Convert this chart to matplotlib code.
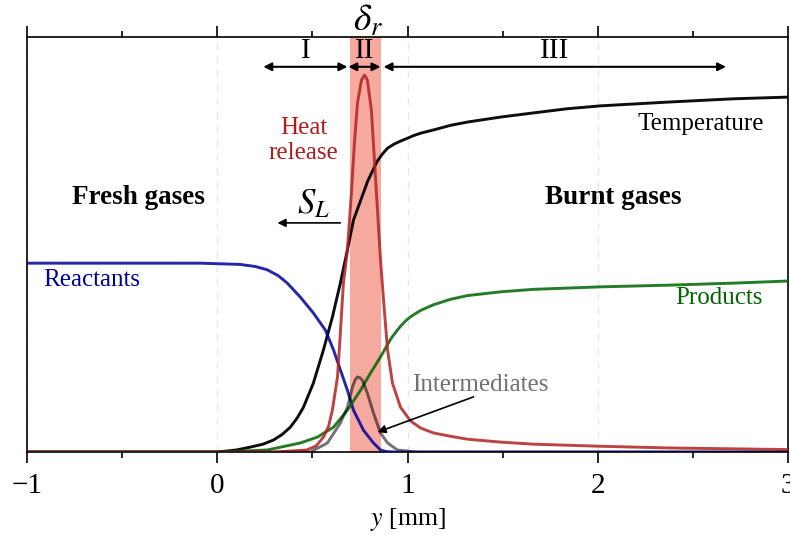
import numpy as np
import matplotlib
matplotlib.use("Agg")
import matplotlib.pyplot as plt

plt.rcParams['font.family'] = ['Liberation Serif', 'DejaVu Serif']
plt.rcParams['mathtext.fontset'] = 'stix'

# curves (y position in mm, normalised profile)
temp_x = [-1.0, 0.0, 0.1, 0.174, 0.24, 0.295, 0.34, 0.384, 0.42, 0.453, 0.505,
          0.558, 0.605, 0.647, 0.684, 0.716, 0.768, 0.79, 0.84, 0.868, 0.895,
          0.93, 0.963, 1.0, 1.03, 1.068, 1.137, 1.226, 1.316, 1.49, 1.663,
          1.84, 2.016, 2.368, 2.716, 3.0]
temp_y = [0.0, 0.0, 0.005, 0.012, 0.019, 0.029, 0.042, 0.06, 0.082, 0.108, 0.166,
          0.246, 0.325, 0.407, 0.487, 0.559, 0.624, 0.652, 0.70, 0.718, 0.732,
          0.742, 0.749, 0.756, 0.762, 0.768, 0.776, 0.787, 0.795, 0.807, 0.817,
          0.827, 0.834, 0.843, 0.851, 0.855]

reac_x = [-1.0, -0.09, 0.12, 0.2, 0.263, 0.32, 0.368, 0.437, 0.505, 0.568,
          0.611, 0.647, 0.684, 0.716, 0.768, 0.821, 0.858, 0.89, 0.94, 3.0]
reac_y = [0.455, 0.455, 0.452, 0.447, 0.439, 0.425, 0.407, 0.373, 0.335, 0.294,
          0.246, 0.198, 0.149, 0.101, 0.053, 0.022, 0.005, 0.001, 0.0, 0.0]

prod_x = [-1.0, 0.0, 0.263, 0.437, 0.526, 0.611, 0.684, 0.753, 0.805, 0.858,
          0.911, 0.94, 0.963, 0.99, 1.016, 1.068, 1.137, 1.226, 1.316, 1.49,
          1.663, 2.016, 2.368, 2.716, 3.0]
prod_y = [0.0, 0.0, 0.005, 0.022, 0.036, 0.06, 0.101, 0.149, 0.19, 0.229,
          0.272, 0.29, 0.303, 0.316, 0.326, 0.341, 0.355, 0.368, 0.377, 0.386,
          0.392, 0.398, 0.402, 0.407, 0.412]

heat_x = [-1.0, 0.3, 0.47, 0.52, 0.558, 0.585, 0.605, 0.632, 0.647, 0.663, 0.684,
          0.705, 0.721, 0.737, 0.758, 0.774, 0.789, 0.81, 0.826, 0.842, 0.858,
          0.874, 0.895, 0.921, 0.963, 1.016, 1.068, 1.137, 1.226, 1.316, 1.49,
          1.663, 2.016, 2.368, 3.0]
heat_y = [0.0, 0.0, 0.005, 0.015, 0.036, 0.062, 0.101, 0.181, 0.287, 0.407, 0.487,
          0.624, 0.745, 0.841, 0.896, 0.908, 0.896, 0.824, 0.704, 0.583, 0.463,
          0.366, 0.246, 0.166, 0.108, 0.075, 0.058, 0.046, 0.038, 0.031, 0.024,
          0.019, 0.014, 0.01, 0.006]

inter_x = [-1.0, 0.489, 0.579, 0.647, 0.684, 0.711, 0.725, 0.737, 0.75, 0.763,
           0.789, 0.821, 0.858, 0.895, 0.947, 1.05, 3.0]
inter_y = [0.0, 0.0, 0.022, 0.07, 0.108, 0.157, 0.174, 0.181, 0.179, 0.173,
           0.142, 0.094, 0.046, 0.022, 0.005, 0.0, 0.0]

# reaction zone and the three sub-zones
delta_r = [0.70, 0.86]
zones = ["I", "II", "III"]
zone_bounds = [(0.242, 0.684), (0.689, 0.858), (0.874, 2.674)]

fig = plt.figure(figsize=(7.9, 5.35), dpi=100)
ax = fig.add_axes([0.0342, 0.155, 0.9633, 0.776])

ax.axvspan(delta_r[0], delta_r[1], color='#f07060', alpha=0.6, lw=0, zorder=1)

ax.plot(temp_x, temp_y, color='black', lw=2.1, alpha=0.95, zorder=3)
ax.plot(reac_x, reac_y, color='#000099', lw=2.1, alpha=0.85, zorder=3)
ax.plot(prod_x, prod_y, color='#006400', lw=2.1, alpha=0.85, zorder=3)
ax.plot(heat_x, heat_y, color='#b22222', lw=2.1, alpha=0.85, zorder=3)
ax.plot(inter_x, inter_y, color='black', lw=2.1, alpha=0.55, zorder=3)

ax.set_xlim(-1, 3)
ax.set_ylim(0, 1)
ax.set_yticks([])
ax.set_xticks([-1, 0, 1, 2, 3])
ax.set_xticks([-0.5, 0.5, 1.5, 2.5], minor=True)
ax.tick_params(axis='x', which='both', top=True, labeltop=False, direction='out',
               labelsize=21, width=1.2)
ax.tick_params(axis='x', which='major', length=8, pad=7)
ax.tick_params(axis='x', which='minor', length=4)
ax.xaxis.grid(True, which='major', color='#e6e6e6', ls=(0, (5, 5)), lw=1)
for s in ax.spines.values():
    s.set_linewidth(1.2)
ax.set_xlabel("$y$ [mm]", fontsize=18.5, labelpad=5)

# annotations
ax.text(-0.416, 0.612, "Fresh gases", fontsize=19.5, fontweight='bold',
        ha='center', va='center')
ax.text(2.08, 0.612, "Burnt gases", fontsize=19.5, fontweight='bold',
        ha='center', va='center')
ax.text(2.54, 0.79, "Temperature", fontsize=18, ha='center', va='center')
ax.text(2.637, 0.371, "Products", fontsize=18, color='#006400', ha='center', va='center')
ax.text(-0.658, 0.414, "Reactants", fontsize=18, color='#000099', ha='center', va='center')
ax.text(0.453, 0.75, "Heat\nrelease", fontsize=18, color='#b01c1c', ha='center',
        va='center', linespacing=1.2)
ax.text(1.384, 0.161, "Intermediates", fontsize=18, color='#707070',
        ha='center', va='center')
ax.annotate("", xy=(0.842, 0.048), xytext=(1.347, 0.133),
            arrowprops=dict(arrowstyle='-|>', color='black', lw=1.2,
                            shrinkA=0, shrinkB=0, mutation_scale=12))
ax.annotate("", xy=(0.316, 0.552), xytext=(0.647, 0.552),
            arrowprops=dict(arrowstyle='-|>', color='black', lw=1.2,
                            shrinkA=0, shrinkB=0, mutation_scale=12))
ax.text(0.505, 0.595, "$S_L$", fontsize=25, ha='center', va='center')
ax.text(0.79, 1.038, r"$\delta_r$", fontsize=27, ha='center', va='center',
        clip_on=False)

for name, (x0, x1) in zip(zones, zone_bounds):
    ax.annotate("", xy=(x1, 0.928), xytext=(x0, 0.928),
                arrowprops=dict(arrowstyle='<|-|>', color='black', lw=1.5,
                                shrinkA=0, shrinkB=0, mutation_scale=12),
                zorder=4)
    ax.text((x0 + x1) / 2, 0.966, name, fontsize=21, ha='center', va='center')

fig.savefig("out.png", dpi=100)
